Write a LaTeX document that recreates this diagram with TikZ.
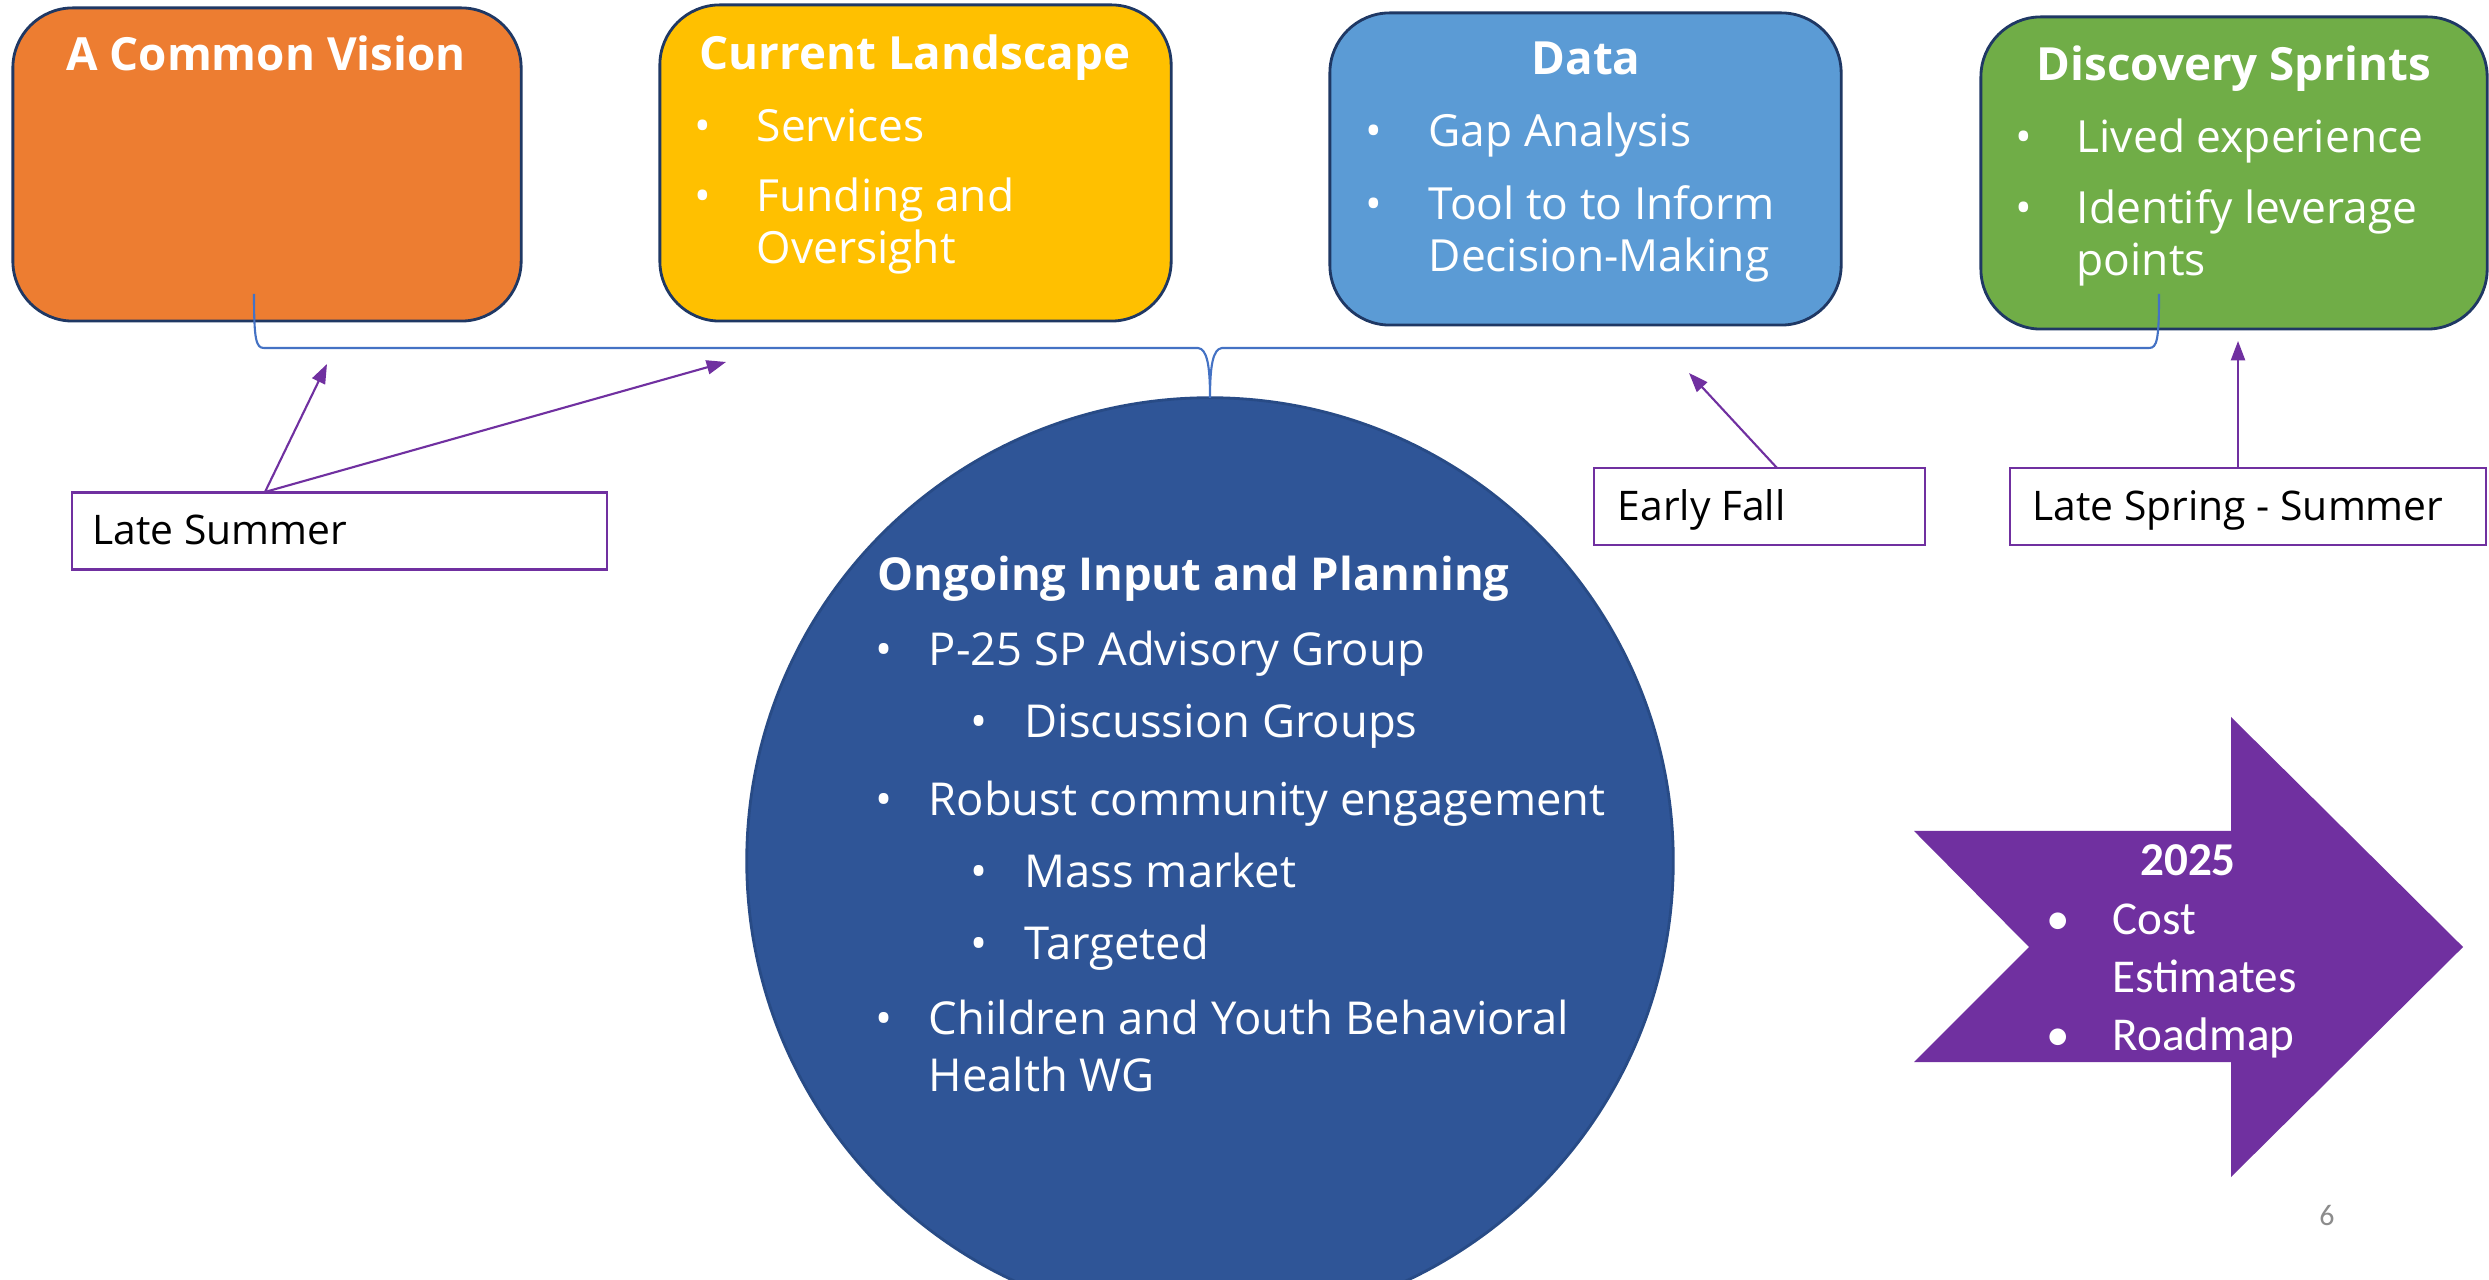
\documentclass[tikz,border=0pt]{standalone}
\usepackage{fontspec}
\setmainfont{Open Sans}
\newfontfamily\calibri{Carlito}
\usetikzlibrary{arrows.meta}
\definecolor{cOrange}{HTML}{ED7D31}
\definecolor{cYellow}{HTML}{FFC000}
\definecolor{cBlue}{HTML}{5B9BD5}
\definecolor{cGreen}{HTML}{70AD47}
\definecolor{cNavy}{HTML}{1F3864}
\definecolor{cCircle}{HTML}{2F5597}
\definecolor{cCircleEdge}{HTML}{284B86}
\definecolor{cPurple}{HTML}{7030A0}
\definecolor{cBrace}{HTML}{4472C4}
\definecolor{cGrey}{HTML}{8C8C8C}
\tikzset{
  phasebox/.style={draw=cNavy, line width=0.8pt, rounded corners=0.6cm, inner sep=0pt},
  boxtitle/.style={text=white, font=\bfseries\fontsize{13}{15}\selectfont, anchor=base, inner sep=0pt},
  boxitem/.style={text=white, font=\fontsize{12.6}{15}\selectfont, anchor=base west, inner sep=0pt},
  boxbullet/.style={text=white, font=\fontsize{12.6}{15}\selectfont, anchor=base, inner sep=0pt},
  circtitle/.style={text=white, font=\bfseries\fontsize{12.9}{15}\selectfont, anchor=base west, inner sep=0pt},
  circitem/.style={text=white, font=\fontsize{12.9}{15}\selectfont, anchor=base west, inner sep=0pt},
  circbullet/.style={text=white, font=\fontsize{12.9}{15}\selectfont, anchor=base, inner sep=0pt},
  labelbox/.style={draw=cPurple, line width=0.7pt, fill=white, inner sep=0pt},
  labeltext/.style={text=black, font=\fontsize{11.6}{14}\selectfont, anchor=base west, inner sep=0pt},
  timearrow/.style={draw=cPurple, line width=0.6pt, -{Triangle[length=5.5pt,width=4pt]}},
  arrowtitle/.style={text=white, font=\calibri\bfseries\fontsize{13.4}{16}\selectfont, anchor=base, inner sep=0pt},
  arrowitem/.style={text=white, font=\calibri\fontsize{13.4}{16}\selectfont, anchor=base west, inner sep=0pt},
  arrowbullet/.style={text=white, font=\calibri\fontsize{13.4}{16}\selectfont, anchor=base, inner sep=0pt},
}
\begin{document}
\begin{tikzpicture}[x=0.01cm, y=-0.01cm]
\useasboundingbox (0,0) rectangle (2489,1280);
\clip (0,0) rectangle (2489,1280);
\fill[white] (0,0) rectangle (2489,1280);

% phase boxes
\node[phasebox, fill=cOrange, minimum width=5.08cm, minimum height=3.13cm] (vision) at (267,164.5) {};
\node[phasebox, fill=cYellow, minimum width=5.11cm, minimum height=3.16cm] (landscape) at (915.5,163) {};
\node[phasebox, fill=cBlue, minimum width=5.11cm, minimum height=3.12cm] (data) at (1585.5,169) {};
\node[phasebox, fill=cGreen, minimum width=5.06cm, minimum height=3.12cm] (sprints) at (2234,173) {};

\node[boxtitle] (visionT) at (266,71) {A Common Vision};

\node[boxtitle] (landT) at (915,70) {Current Landscape};
\node[boxbullet] (landB1) at (703,142) {•};
\node[boxitem] (land1) at (756,142) {Services};
\node[boxbullet] (landB2) at (703,212) {•};
\node[boxitem] (land2) at (756,212) {Funding and};
\node[boxitem] (land3) at (756,264) {Oversight};

\node[boxtitle] (dataT) at (1586,75) {Data};
\node[boxbullet] (dataB1) at (1374,147) {•};
\node[boxitem] (data1) at (1428,147) {Gap Analysis};
\node[boxbullet] (dataB2) at (1374,220) {•};
\node[boxitem] (data2) at (1428,220) {Tool to to Inform};
\node[boxitem] (data3) at (1428,272) {Decision-Making};

\node[boxtitle] (sprT) at (2234,81) {Discovery Sprints};
\node[boxbullet] (sprB1) at (2024,153) {•};
\node[boxitem] (spr1) at (2076,153) {Lived experience};
\node[boxbullet] (sprB2) at (2024,224) {•};
\node[boxitem] (spr2) at (2076,224) {Identify leverage};
\node[boxitem] (spr3) at (2076,276) {points};

% circle
\node[circle, fill=cCircle, draw=cCircleEdge, line width=0.8pt, minimum size=9.26cm, inner sep=0pt] (plan) at (1210,861) {};
\node[circtitle] (planT) at (877,591) {Ongoing Input and Planning};
\node[circbullet] (pb1) at (884,666) {•};
\node[circitem] (p1) at (928,666) {P-25 SP Advisory Group};
\node[circbullet] (pb2) at (979,738) {•};
\node[circitem] (p2) at (1024,738) {Discussion Groups};
\node[circbullet] (pb3) at (884,816) {•};
\node[circitem] (p3) at (928,816) {Robust community engagement};
\node[circbullet] (pb4) at (979,888) {•};
\node[circitem] (p4) at (1024,888) {Mass market};
\node[circbullet] (pb5) at (979,959) {•};
\node[circitem] (p5) at (1024,959) {Targeted};
\node[circbullet] (pb6) at (884,1034) {•};
\node[circitem] (p6) at (928,1034) {Children and Youth Behavioral};
\node[circitem] (p7) at (928,1091) {Health WG};

% brace
\coordinate (braceL) at (254,294);
\coordinate (braceM) at (1210,398);
\coordinate (braceR) at (2159,294);
\draw[cBrace, line width=0.6pt]
  (braceL) .. controls (254,340) and (256,348) .. (264,348)
  -- (1198,348) .. controls (1207,349) and (1210,365) .. (braceM)
  .. controls (1210,365) and (1213,349) .. (1222,348)
  -- (2149,348) .. controls (2157,348) and (2159,340) .. (braceR);

% time labels
\node[labelbox, minimum width=5.35cm, minimum height=0.77cm] (lateSummer) at (339.5,531) {};
\node[labeltext] (lateSummerT) at (92,545) {Late Summer};
\node[labelbox, minimum width=3.31cm, minimum height=0.77cm] (earlyFall) at (1759.5,506.5) {};
\node[labeltext] (earlyFallT) at (1617,521) {Early Fall};
\node[labelbox, minimum width=4.76cm, minimum height=0.77cm] (lateSpring) at (2248,506.5) {};
\node[labeltext] (lateSpringT) at (2032,521) {Late Spring - Summer};

\coordinate (lsStart) at (265,492);
\coordinate (lsTipA) at (327,364);
\coordinate (lsTipB) at (726,362);
\coordinate (efStart) at (1777,468);
\coordinate (efTip) at (1689,373);
\coordinate (lpStart) at (2238,468);
\coordinate (lpTip) at (2238,341);
\draw[timearrow] (lsStart) -- (lsTipA);
\draw[timearrow] (lsStart) -- (lsTipB);
\draw[timearrow] (efStart) -- (efTip);
\draw[timearrow] (lpStart) -- (lpTip);

% 2025 arrow
\fill[cPurple] (1914,831) -- (2231,831) -- (2231,717) -- (2463,947) -- (2231,1177) -- (2231,1062) -- (1914,1062) -- (2029,947) -- cycle;
\node[arrowtitle] (yr) at (2188,876) {2025};
\node[arrowbullet] (ab1) at (2058,934) {•};
\node[arrowitem] (a1) at (2112,934) {Cost};
\node[arrowitem] (a2) at (2112,992) {Estimates};
\node[arrowbullet] (ab2) at (2058,1050) {•};
\node[arrowitem] (a3) at (2112,1050) {Roadmap};

\node[text=cGrey, font=\calibri\fontsize{8.5}{10}\selectfont, anchor=base, inner sep=0pt] (pagenum) at (2327,1225) {6};
\end{tikzpicture}
\end{document}
